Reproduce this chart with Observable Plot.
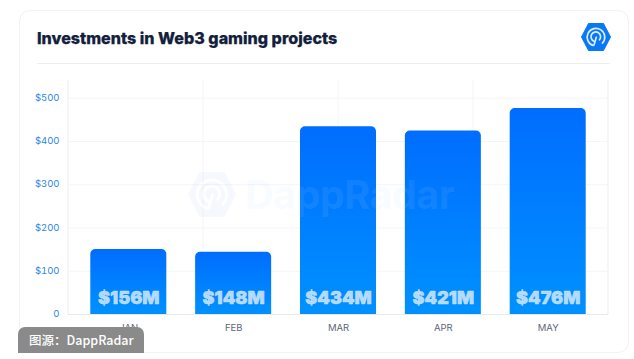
<!DOCTYPE html>
<html><head><meta charset="utf-8">
<script src="https://cdn.jsdelivr.net/npm/d3@7"></script>
<script src="https://cdn.jsdelivr.net/npm/@observablehq/plot@0.6"></script>
<style>
html,body{margin:0;padding:0;background:#fff;}
#page{position:relative;width:634px;height:359px;overflow:hidden;font-family:Inter,sans-serif;}
#card{position:absolute;left:19px;top:10px;width:608px;height:341px;border:1px solid #f1f2f4;border-radius:11px;box-sizing:content-box;}
#title{position:absolute;left:37px;top:27px;font:800 16.1px/22px Inter,sans-serif;color:#13203c;white-space:nowrap;-webkit-text-stroke:.25px #13203c;}
#rule{position:absolute;left:37px;top:63px;width:573px;height:1px;background:#eceef1;}
#chart{position:absolute;left:0;top:0;}
#chart svg{display:block;}
.logo{position:absolute;}
#wm{position:absolute;left:245px;top:172px;font:700 39.5px/46px Inter,sans-serif;color:rgba(190,215,255,.11);white-space:nowrap;letter-spacing:-.5px;}
#badge{position:absolute;left:18px;top:327px;width:126px;height:26px;background:#8a8a8a;border-radius:7px 7px 0 0;color:#fff;font:500 12.5px/26px "Noto Sans CJK SC",sans-serif;padding-left:11px;box-sizing:border-box;white-space:nowrap;}
</style></head>
<body>
<div id="page">
  <div id="card"></div>
  <div id="title">Investments in Web3 gaming projects</div>
  <div id="rule"></div>
  <div id="chart"></div>
  <svg class="logo" style="left:581px;top:23px" width="30" height="28" viewBox="-15 -14 30 28">
    <path d="M-14.5 0L-7.5-13.5H7.5L14.5 0L7.5 13.5H-7.5Z" fill="#0a78f5" stroke="#0a78f5" stroke-linejoin="round" stroke-width="1"/>
    <g fill="none" stroke="#dcecff" stroke-width="1.7" stroke-linecap="round">
      <path d="M-3 8.4A8.8 8.8 0 1 1 6.5 6"/><path d="M-2 4.2A4.8 4.8 0 1 1 3.5 2.8"/><path d="M-2 8L0.3 0.2"/>
    </g>
  </svg>
  <svg class="logo" style="left:187px;top:171px;opacity:.1" width="50" height="47" viewBox="-15 -14 30 28">
    <path d="M-14.5 0L-7.5-13.5H7.5L14.5 0L7.5 13.5H-7.5Z" fill="#a9ccfb"/>
    <g fill="none" stroke="#fff" stroke-width="1.7" stroke-linecap="round">
      <path d="M-3 8.4A8.8 8.8 0 1 1 6.5 6"/><path d="M-2 4.2A4.8 4.8 0 1 1 3.5 2.8"/><path d="M-2 8L0.3 0.2"/>
    </g>
  </svg>
  <div id="wm">DappRadar</div>
  <div id="badge">图源：DappRadar</div>
</div>
<script>
const months = ["JAN", "FEB", "MAR", "APR", "MAY"];
const barValues = [150, 144, 434, 424, 476];
const barLabels = ["$156M", "$148M", "$434M", "$421M", "$476M"];
const yTicks = [0, 100, 200, 300, 400, 500];
const gridDivisions = [0, 1, 2, 3, 4];
const table = months.map((month, i) => ({month, value: barValues[i], label: barLabels[i]}));

const gradient = () => {
  const ns = "http://www.w3.org/2000/svg";
  const defs = document.createElementNS(ns, "defs");
  defs.innerHTML = `<linearGradient id="barFill" x1="0" y1="0" x2="0" y2="1">
    <stop offset="0" stop-color="#006dff"/><stop offset="1" stop-color="#0091ff"/></linearGradient>`;
  return defs;
};
// vertical grid divides the frame evenly, independently of the month bands
const verticalGrid = (index, scales, values, dims) => {
  const g = d3.create("svg:g");
  for (const d of gridDivisions) {
    const x = dims.marginLeft + (dims.width - dims.marginLeft - dims.marginRight) * d / (gridDivisions.length - 1);
    g.append("line").attr("x1", x).attr("x2", x).attr("y1", dims.marginTop).attr("y2", dims.height - dims.marginBottom)
      .attr("stroke", d === 0 || d === gridDivisions.length - 1 ? "#e9ecf0" : "#f4f5f8");
  }
  return g.node();
};

const chart = Plot.plot({
  width: 634, height: 359,
  marginLeft: 68, marginRight: 26, marginTop: 80, marginBottom: 45,
  style: {background: "transparent", fontFamily: "Inter, sans-serif"},
  x: {domain: months, paddingInner: 0.275, paddingOuter: 0.2125, align: 0.5, round: false, label: null},
  y: {domain: [0, 541], label: null},
  marks: [
    gradient,
    verticalGrid,
    Plot.ruleY(yTicks.slice(1), {stroke: "#f3f5f8"}),
    Plot.ruleY([0], {stroke: "#e6e9ee"}),
    Plot.axisY({ticks: yTicks, tickSize: 0, tickPadding: 0, dx: -9, dy: -0.5, fontSize: 9.5, fill: "#2b86e6",
      tickFormat: d => d === 0 ? "0" : `$${d}`, label: null}),
    Plot.axisX({tickSize: 0, tickPadding: 10, fontSize: 9.5, fill: "#5d6678", label: null}),
    Plot.barY(table, {x: "month", y: "value", fill: "url(#barFill)", ry1: 5}),
    Plot.text(table, {x: "month", y: 0, dy: -16, text: "label", fill: "#d5e8ff", fillOpacity: 0.85,
      stroke: "#d5e8ff", strokeOpacity: 0.85, strokeWidth: 0.5,
      fontSize: 18, fontWeight: 900, fontFamily: "Inter, sans-serif"})
  ]
});
document.getElementById("chart").append(chart);
</script>
</body></html>
